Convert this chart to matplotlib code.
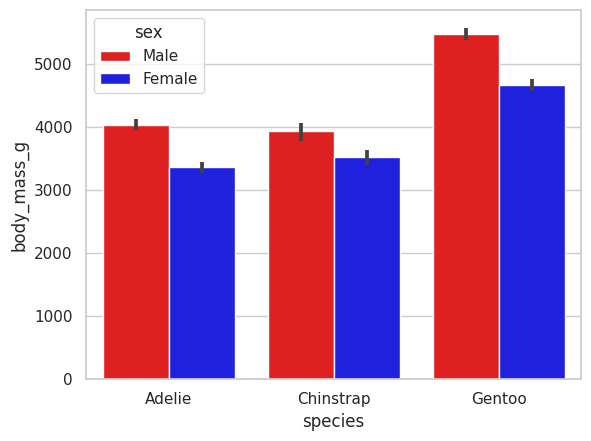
import numpy as np
import pandas as pd
import seaborn as sns
import matplotlib
matplotlib.use("Agg")
import matplotlib.pyplot as plt

species = ["Adelie", "Chinstrap", "Gentoo"]
sexes = ["Male", "Female"]
male_mass = [4043, 3939, 5485]
female_mass = [3369, 3527, 4680]
# 95% CI (low, high)
male_ci = [(3950, 4130), (3790, 4065), (5380, 5585)]
female_ci = [(3280, 3450), (3400, 3640), (4575, 4760)]

df = pd.DataFrame({
    "species": species * 2,
    "sex": ["Male"] * 3 + ["Female"] * 3,
    "body_mass_g": male_mass + female_mass,
})

sns.set_theme(style="whitegrid")
fig = plt.figure(figsize=(5.91, 4.41), dpi=100)
ax = fig.add_axes([86 / 591, 1 - 379 / 441, (581 - 86) / 591, (379 - 10) / 441])
sns.barplot(data=df, x="species", y="body_mass_g", hue="sex",
            palette=["red", "blue"], errorbar=None, ax=ax)

for i in range(len(species)):
    for off, ci in ((-0.2, male_ci[i]), (0.2, female_ci[i])):
        ax.plot([i + off, i + off], ci, color=".26", lw=2.7, solid_capstyle="butt")

ax.set_xlim(-0.5, len(species) - 0.5)
ax.legend(title="sex", loc="upper left")
fig.savefig("out.png", dpi=100)
